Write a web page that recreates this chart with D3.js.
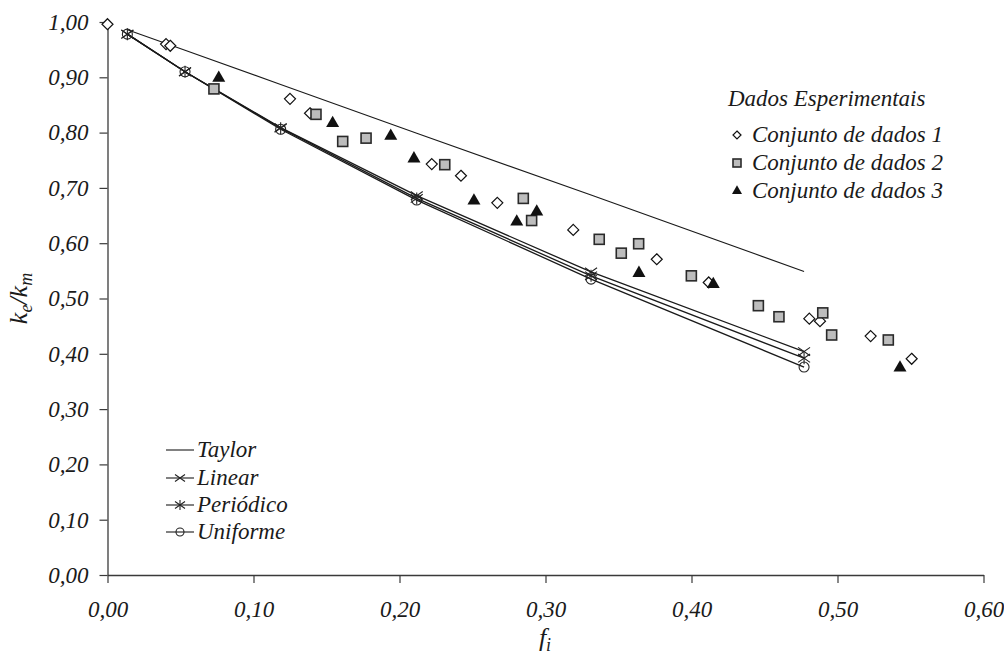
<!DOCTYPE html>
<html>
<head>
<meta charset="utf-8">
<script src="https://cdn.jsdelivr.net/npm/d3@7"></script>
<style>
  html, body { margin: 0; padding: 0; background: #fff; }
  svg { display: block; }
</style>
</head>
<body>
<svg id="chart" width="1004" height="654" font-family="Liberation Serif" font-style="italic"></svg>
<script>
// Volume fraction of inclusions f_i and effective conductivity ratio k_e/k_m
const xTicks = [0, 0.1, 0.2, 0.3, 0.4, 0.5, 0.6];
const yTicks = [0, 0.1, 0.2, 0.3, 0.4, 0.5, 0.6, 0.7, 0.8, 0.9, 1.0];

// Model curves share the same f_i sample points
const modelF = [0.0136, 0.0531, 0.1186, 0.2118, 0.3312, 0.4771];
const taylorK = [0.986, 0.949, 0.887, 0.799, 0.687, 0.549];
const linearK = [0.978, 0.910, 0.809, 0.686, 0.548, 0.404];
const periodicK = [0.978, 0.910, 0.808, 0.681, 0.541, 0.392];
const uniformK = [0.978, 0.910, 0.806, 0.678, 0.535, 0.376];

// Experimental data sets
const set1F = [0.000, 0.0401, 0.0430, 0.125, 0.1387, 0.2221, 0.2421, 0.267, 0.319, 0.3762, 0.4118, 0.4807, 0.488, 0.5227, 0.5508];
const set1K = [0.996, 0.960, 0.957, 0.861, 0.835, 0.743, 0.722, 0.673, 0.624, 0.571, 0.529, 0.4635, 0.459, 0.432, 0.391];

const set2F = [0.0729, 0.1428, 0.1611, 0.1771, 0.231, 0.2848, 0.2905, 0.3368, 0.3519, 0.3638, 0.3999, 0.4458, 0.4599, 0.4899, 0.496, 0.5348];
const set2K = [0.879, 0.833, 0.784, 0.790, 0.742, 0.681, 0.641, 0.607, 0.582, 0.599, 0.541, 0.487, 0.467, 0.474, 0.434, 0.425];

const set3F = [0.0762, 0.1542, 0.194, 0.2099, 0.251, 0.2803, 0.294, 0.364, 0.4149, 0.5428];
const set3K = [0.899, 0.817, 0.794, 0.753, 0.677, 0.639, 0.657, 0.546, 0.526, 0.375];

const modelNames = ["Taylor", "Linear", "Periódico", "Uniforme"];
const dataNames = ["Conjunto de dados 1", "Conjunto de dados 2", "Conjunto de dados 3"];
const dataTitle = "Dados Esperimentais";

const svg = d3.select("#chart");
const x = d3.scaleLinear().domain([0, 0.6]).range([107.5, 983.5]);
const y = d3.scaleLinear().domain([0, 1]).range([575, 22]);

const locale = d3.formatLocale({ decimal: ",", thousands: ".", grouping: [3], currency: ["", ""] });
const fmt = locale.format(".2f");

const axisColor = "#3a3a3a";

// Axes
const gx = svg.append("g").attr("transform", `translate(0,${y(0)})`)
  .call(d3.axisBottom(x).tickValues(xTicks).tickFormat(fmt).tickSize(8).tickSizeOuter(0).tickPadding(18));
const gy = svg.append("g").attr("transform", `translate(${x(0)},0)`)
  .call(d3.axisLeft(y).tickValues(yTicks).tickFormat(fmt).tickSize(8).tickSizeOuter(0).tickPadding(11));
[gx, gy].forEach(g => {
  g.attr("font-family", "Liberation Serif").attr("font-size", 23);
  g.select(".domain").attr("stroke", axisColor).attr("stroke-width", 1.3);
  g.selectAll(".tick line").attr("stroke", axisColor).attr("stroke-width", 1.2);
  g.selectAll(".tick text")
    .attr("font-family", "Liberation Serif")
    .attr("font-style", "italic")
    .attr("font-size", 23)
    .attr("fill", "#1a1a1a");
});

// Axis titles
const xt = svg.append("text").attr("x", 545).attr("y", 646).attr("text-anchor", "middle")
  .attr("font-family", "Liberation Serif").attr("font-style", "italic").attr("font-size", 26).attr("fill", "#1a1a1a");
xt.append("tspan").text("f");
xt.append("tspan").attr("font-size", 18).attr("dy", 5).text("i");

const yt = svg.append("text").attr("transform", `translate(27,${(y(0) + y(1)) / 2}) rotate(-90)`)
  .attr("text-anchor", "middle")
  .attr("font-family", "Liberation Serif").attr("font-style", "italic").attr("font-size", 26).attr("fill", "#1a1a1a");
yt.append("tspan").text("k");
yt.append("tspan").attr("font-size", 18).attr("dy", 5).text("e");
yt.append("tspan").attr("dy", -5).text("/k");
yt.append("tspan").attr("font-size", 18).attr("dy", 5).text("m");

// Marker shapes
function diamond(g, px, py, s) {
  g.append("path").attr("d", `M${px},${py - s}L${px + s},${py}L${px},${py + s}L${px - s},${py}Z`)
    .attr("fill", "#fff").attr("stroke", "#111").attr("stroke-width", 1.2);
}
function square(g, px, py, s) {
  g.append("rect").attr("x", px - s).attr("y", py - s).attr("width", 2 * s).attr("height", 2 * s)
    .attr("fill", "#bdbdbd").attr("stroke", "#2a2a2a").attr("stroke-width", 1.6);
}
function triangle(g, px, py, s) {
  g.append("path").attr("d", `M${px},${py - s * 1.15}L${px + s},${py + s * 0.6}L${px - s},${py + s * 0.6}Z`)
    .attr("fill", "#111");
}
function cross(g, px, py, s) {
  g.append("path").attr("d", `M${px - s},${py - s * 0.7}L${px + s},${py + s * 0.7}M${px - s},${py + s * 0.7}L${px + s},${py - s * 0.7}`)
    .attr("stroke", "#222").attr("stroke-width", 1.1).attr("fill", "none");
}
function star(g, px, py, s) {
  cross(g, px, py, s);
  g.append("path").attr("d", `M${px},${py - s}L${px},${py + s}`)
    .attr("stroke", "#222").attr("stroke-width", 1.1);
}
function ring(g, px, py, s) {
  g.append("circle").attr("cx", px).attr("cy", py).attr("r", s)
    .attr("fill", "none").attr("stroke", "#222").attr("stroke-width", 1.1);
}

// Model lines
const line = d3.line().x(d => x(d[0])).y(d => y(d[1]));
const models = [
  { k: taylorK, width: 1.1, marker: null },
  { k: linearK, width: 1.3, marker: cross },
  { k: periodicK, width: 1.3, marker: star },
  { k: uniformK, width: 1.3, marker: ring }
];
const gm = svg.append("g");
models.forEach(m => {
  const pts = modelF.map((f, i) => [f, m.k[i]]);
  gm.append("path").attr("d", line(pts)).attr("fill", "none").attr("stroke", "#1a1a1a").attr("stroke-width", m.width);
});
models.forEach(m => {
  if (!m.marker) return;
  modelF.forEach((f, i) => m.marker(gm, x(f), y(m.k[i]), m.marker === ring ? 5 : 6));
});

// Experimental points
const gd = svg.append("g");
set1F.forEach((f, i) => diamond(gd, x(f), y(set1K[i]), 5.5));
set2F.forEach((f, i) => square(gd, x(f), y(set2K[i]), 5));
set3F.forEach((f, i) => triangle(gd, x(f), y(set3K[i]), 6.5));

// Legend: experimental data
const lg1 = svg.append("g");
lg1.append("text").attr("x", 728).attr("y", 106)
  .attr("font-family", "Liberation Serif").attr("font-style", "italic").attr("font-size", 23).attr("fill", "#1a1a1a")
  .text(dataTitle);
const rowY1 = [135, 163, 191];
const legendMarkers = [
  (g, px, py) => diamond(g, px, py, 4),
  (g, px, py) => square(g, px, py, 4),
  (g, px, py) => triangle(g, px, py, 5)
];
dataNames.forEach((name, i) => {
  legendMarkers[i](lg1, 737, rowY1[i]);
  lg1.append("text").attr("x", 752).attr("y", rowY1[i] + 7)
    .attr("font-family", "Liberation Serif").attr("font-style", "italic").attr("font-size", 23).attr("fill", "#1a1a1a")
    .text(name);
});

// Legend: models
const lg2 = svg.append("g");
const rowY2 = [450, 478, 505, 532];
const legendModelMarkers = [null, cross, star, ring];
modelNames.forEach((name, i) => {
  const yy = rowY2[i];
  lg2.append("line").attr("x1", 166).attr("x2", 194).attr("y1", yy).attr("y2", yy)
    .attr("stroke", "#1a1a1a").attr("stroke-width", 1.1);
  if (legendModelMarkers[i]) legendModelMarkers[i](lg2, 180, yy, legendModelMarkers[i] === ring ? 4 : 5);
  lg2.append("text").attr("x", 197).attr("y", yy + 7)
    .attr("font-family", "Liberation Serif").attr("font-style", "italic").attr("font-size", 23).attr("fill", "#1a1a1a")
    .text(name);
});
</script>
</body>
</html>
